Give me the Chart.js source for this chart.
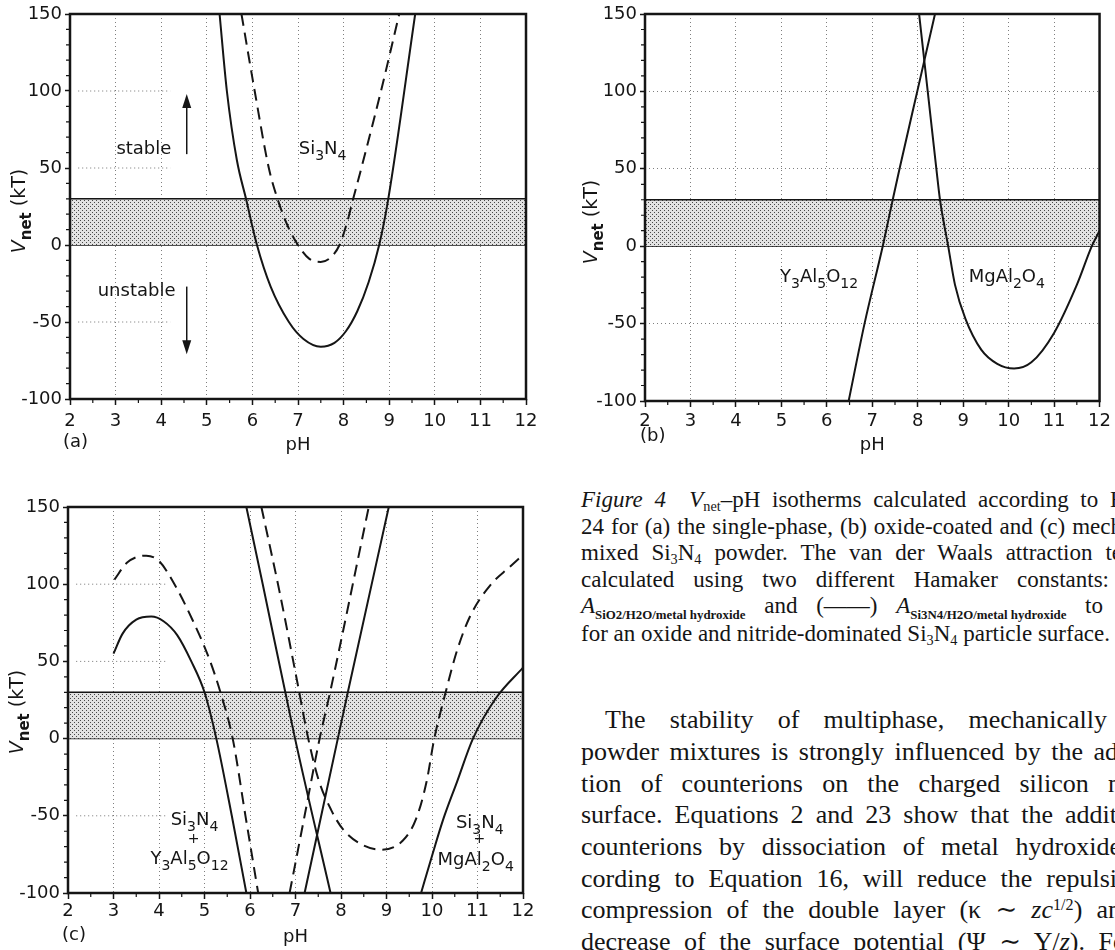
<!DOCTYPE html>
<html>
<head>
<meta charset="utf-8">
<title>Vnet-pH isotherms</title>
<script src="https://cdn.jsdelivr.net/npm/chart.js@4.4.1/dist/chart.umd.min.js"></script>
<style>
  html, body { margin: 0; padding: 0; background: #fff; }
  body { position: relative; width: 1115px; height: 950px; overflow: hidden; color: #151515;
         font-family: "Liberation Serif", "DejaVu Serif", serif; }
  canvas { position: absolute; }
  #chartA { left: 0; top: 0; }
  #chartB { left: 570px; top: 0; }
  #chartC { left: 0; top: 480px; }
  .ln { position: absolute; white-space: nowrap; line-height: 1; }
  .cap { font-size: 23px; }
  .par { font-size: 26px; }
  .ln sub { font-size: 0.62em; vertical-align: -0.28em; line-height: 0; }
  .ln sup { font-size: 0.62em; vertical-align: 0.5em; line-height: 0; }
  .ln .hs { font-size: 0.56em; font-weight: bold; vertical-align: -0.45em; line-height: 0; word-spacing: 0; }
</style>
</head>
<body>
<canvas id="chartA" width="560" height="470"></canvas>
<canvas id="chartB" width="545" height="470"></canvas>
<canvas id="chartC" width="560" height="470"></canvas>
<div id="text"></div>
<script>
// axis ticks shared by the three panels
const pHTicks = [2, 3, 4, 5, 6, 7, 8, 9, 10, 11, 12];
const vTicks = [-100, -50, 0, 50, 100, 150];
const bandBottom = 0, bandTop = 30;

// (a) single-phase Si3N4
const aSolidPH = [5.28, 5.44, 5.66, 5.86, 6.10, 6.40, 6.80, 7.12, 7.50, 7.80, 8.05, 8.30, 8.55, 8.78, 8.98, 9.57];
const aSolidV  = [150, 100, 55, 30, 0, -27, -50, -61, -66, -63.5, -56, -43, -24, 0, 30, 150];
const aDashPH  = [5.76, 6.05, 6.36, 6.55, 6.78, 7.00, 7.25, 7.50, 7.72, 7.91, 8.08, 8.21, 8.39, 8.82, 9.22];
const aDashV   = [150, 100, 50, 30, 12, 0, -9, -11, -8, 0, 15, 30, 50, 100, 150];

// (b) oxide-coated Si3N4
const bYagPH    = [6.48, 6.83, 7.23, 7.45, 7.60, 7.99, 8.38];
const bYagV     = [-100, -50, 0, 30, 50, 100, 150];
const bSpinelPH = [8.03, 8.22, 8.41, 8.49, 8.67, 8.82, 9.05, 9.40, 9.75, 10.12, 10.50, 11.00, 11.50, 11.83, 12.00];
const bSpinelV  = [150, 100, 50, 30, 0, -25, -47, -67, -76, -79, -75, -56, -25, 0, 10];

// (c) mechanically mixed powders
const cYagSolidLeftPH  = [3.00, 3.20, 3.50, 3.83, 4.10, 4.40, 4.71, 5.00, 5.26, 5.60, 5.92];
const cYagSolidLeftV   = [55, 68, 77, 79, 76, 67, 50, 30, 0, -50, -100];
const cYagDashLeftPH   = [3.02, 3.30, 3.72, 4.00, 4.34, 4.75, 5.10, 5.35, 5.62, 5.90, 6.18];
const cYagDashLeftV    = [103, 114, 118.5, 115, 100, 76, 52, 30, 0, -50, -100];
const cYagDashRightPH  = [6.87, 7.20, 7.53, 7.76, 8.61];
const cYagDashRightV   = [-100, -50, 0, 30, 150];
const cYagSolidRightPH = [7.20, 7.93, 8.15, 9.05];
const cYagSolidRightV  = [-100, 0, 30, 150];
const cSpinelSolidLeftPH  = [5.92, 6.28, 6.99, 7.77];
const cSpinelSolidLeftV   = [150, 100, 0, -100];
const cSpinelSolidRightPH = [9.76, 10.00, 10.25, 10.55, 10.90, 11.40, 12.00];
const cSpinelSolidRightV  = [-100, -76, -52, -28, 0, 26, 46];
const cSpinelDashPH = [6.25, 6.65, 7.05, 7.28, 7.50, 7.78, 8.05, 8.48, 8.90, 9.36, 9.65, 9.88, 10.05, 10.30, 10.55, 10.85, 11.30, 11.70, 12.00];
const cSpinelDashV  = [150, 95, 35, 0, -26, -46, -59, -69, -72, -66, -52, -28, 0, 30, 57, 80, 100, 111, 119];

const FONT = '"DejaVu Sans", sans-serif';
const INK = '#151515';

const si3n4 = [['Si', ''], ['3', 's'], ['N', ''], ['4', 's']];
const yag = [['Y', ''], ['3', 's'], ['Al', ''], ['5', 's'], ['O', ''], ['12', 's']];
const spinel = [['MgAl', ''], ['2', 's'], ['O', ''], ['4', 's']];

function curve(ph, v, dashed) {
    return {
        data: ph.map((x, i) => ({ x: x, y: v[i] })),
        showLine: true,
        borderColor: INK,
        borderWidth: 2,
        borderDash: dashed ? [12, 7] : [],
        pointRadius: 0,
        fill: false,
        cubicInterpolationMode: 'monotone'
    };
}

// staggered dot stipple for the 0..30 kT band
function stipple() {
    const c = document.createElement('canvas');
    c.width = 4; c.height = 4;
    const g = c.getContext('2d');
    g.fillStyle = '#e2e2e2';
    g.fillRect(0, 0, 4, 4);
    g.fillStyle = '#484848';
    g.fillRect(0, 0, 1, 1);
    g.fillRect(2, 2, 1, 1);
    return g.createPattern(c, 'repeat');
}

function bandSets() {
    return [
        { data: [{ x: 2, y: bandTop }, { x: 12, y: bandTop }], showLine: true, borderColor: INK, borderWidth: 1.5,
          pointRadius: 0, fill: { value: bandBottom }, backgroundColor: stipple() },
        { data: [{ x: 2, y: bandBottom }, { x: 12, y: bandBottom }], showLine: true, borderColor: INK, borderWidth: 1.5,
          pointRadius: 0, fill: false }
    ];
}

// text with subscripts, centred on x
function richText(ctx, x, y, parts, size) {
    const fontOf = t => {
        if (t === 's') return Math.round(size * 0.75) + 'px ' + FONT;
        if (t === 'sb') return 'bold ' + Math.round(size * 0.78) + 'px ' + FONT;
        if (t === 'i') return 'italic ' + size + 'px ' + FONT;
        return size + 'px ' + FONT;
    };
    let w = 0;
    parts.forEach(p => { ctx.font = fontOf(p[1]); w += ctx.measureText(p[0]).width; });
    let cx = x - w / 2;
    ctx.textAlign = 'left';
    ctx.textBaseline = 'middle';
    ctx.fillStyle = INK;
    parts.forEach(p => {
        ctx.font = fontOf(p[1]);
        const dy = (p[1] === 's' || p[1] === 'sb') ? size * 0.38 : 0;
        ctx.fillText(p[0], cx, y + dy);
        cx += ctx.measureText(p[0]).width;
    });
}

function arrow(ctx, x, y0, y1) {
    const dir = y1 > y0 ? 1 : -1;
    ctx.beginPath();
    ctx.moveTo(x, y0);
    ctx.lineTo(x, y1 - dir * 10);
    ctx.stroke();
    ctx.beginPath();
    ctx.moveTo(x, y1);
    ctx.lineTo(x - 4.5, y1 - dir * 14);
    ctx.lineTo(x + 4.5, y1 - dir * 14);
    ctx.closePath();
    ctx.fill();
}

function makePanel(id, p) {
    const deco = {
        id: 'deco' + id,
        beforeDatasetsDraw(chart) {
            const { ctx, scales: { x, y } } = chart;
            ctx.save();
            ctx.setLineDash([1, 3]);
            ctx.strokeStyle = 'rgba(0,0,0,0.55)';
            ctx.lineWidth = 1;
            p.hGuides.forEach(v => {
                ctx.beginPath();
                ctx.moveTo(x.getPixelForValue(2.18), y.getPixelForValue(v));
                ctx.lineTo(x.getPixelForValue(4.2), y.getPixelForValue(v));
                ctx.stroke();
            });
            ctx.restore();
        },
        afterDraw(chart) {
            const { ctx, chartArea: a, scales: { x, y } } = chart;
            ctx.save();
            ctx.strokeStyle = INK;
            ctx.fillStyle = INK;
            ctx.lineWidth = 2.5;
            ctx.strokeRect(a.left, a.top, a.right - a.left, a.bottom - a.top);

            // minor ticks
            ctx.lineWidth = 1.2;
            ctx.beginPath();
            for (let v = -100; v <= 150; v += 10) {
                if (v % 50 === 0) continue;
                const py = y.getPixelForValue(v);
                ctx.moveTo(a.left - 4, py);
                ctx.lineTo(a.left, py);
            }
            for (let h = 2.5; h < 12; h += 1) {
                const px = x.getPixelForValue(h);
                ctx.moveTo(px, a.bottom);
                ctx.lineTo(px, a.bottom + 4);
            }
            ctx.stroke();

            ctx.lineWidth = 1.5;
            (p.arrows || []).forEach(ar => {
                arrow(ctx, x.getPixelForValue(ar.ph), y.getPixelForValue(ar.from), y.getPixelForValue(ar.to));
            });

            p.labels.forEach(l => {
                richText(ctx, x.getPixelForValue(l.ph), y.getPixelForValue(l.v), l.parts, l.size || 18);
            });

            ctx.font = '18px ' + FONT;
            ctx.textAlign = 'left';
            ctx.textBaseline = 'middle';
            ctx.fillText(p.letter, p.letterX, p.letterY);

            // y axis title
            ctx.translate(p.titleX, p.titleY);
            ctx.rotate(-Math.PI / 2);
            richText(ctx, 0, 0, [['V', 'i'], ['net', 'sb'], [' (kT)', '']], 19);
            ctx.restore();
        }
    };

    return new Chart(document.getElementById(id), {
        type: 'scatter',
        data: { datasets: p.datasets.concat(bandSets()) },
        options: {
            responsive: false,
            animation: false,
            devicePixelRatio: 1,
            layout: { padding: { left: 0, top: p.top, right: p.right, bottom: 0 } },
            plugins: { legend: { display: false }, tooltip: { enabled: false } },
            scales: {
                x: {
                    type: 'linear', min: 2, max: 12,
                    afterBuildTicks: s => { s.ticks = pHTicks.map(v => ({ value: v })); },
                    ticks: { font: { family: FONT, size: 18 }, color: INK, padding: p.xPad, maxRotation: 0, autoSkip: false },
                    grid: { color: 'rgba(0,0,0,0.5)', lineWidth: 1, tickLength: 6, tickColor: INK, tickWidth: 1.5 },
                    border: { display: false, dash: [1, 3] },
                    title: { display: true, text: 'pH', font: { family: FONT, size: 18 }, color: INK,
                             padding: { top: 0, bottom: p.titlePad } },
                    afterFit: s => { s.height = p.xAxisH; }
                },
                y: {
                    type: 'linear', min: -100, max: 150,
                    afterBuildTicks: s => { s.ticks = vTicks.map(v => ({ value: v })); },
                    ticks: { font: { family: FONT, size: 18 }, color: INK, padding: 3 },
                    grid: { drawOnChartArea: p.fullGrid, color: 'rgba(0,0,0,0.5)', lineWidth: 1, tickLength: 5,
                            tickColor: INK, tickWidth: 1.5 },
                    border: { display: false, dash: [1, 3] },
                    afterFit: s => { s.width = p.yAxisW; }
                }
            }
        },
        plugins: [deco]
    });
}

makePanel('chartA', {
    top: 14, right: 34, yAxisW: 70, xAxisH: 71, xPad: 6, titlePad: 14, fullGrid: false,
    hGuides: [100, 50, -50], titleX: 20, titleY: 211, letter: '(a)', letterX: 63, letterY: 442,
    datasets: [curve(aSolidPH, aSolidV, false), curve(aDashPH, aDashV, true)],
    labels: [
        { ph: 3.62, v: 62, parts: [['stable', '']] },
        { ph: 3.46, v: -30, parts: [['unstable', '']] },
        { ph: 7.54, v: 62, parts: si3n4 }
    ],
    arrows: [{ ph: 4.56, from: 59, to: 98 }, { ph: 4.56, from: -27, to: -71 }]
});

makePanel('chartB', {
    top: 14, right: 13, yAxisW: 75, xAxisH: 69, xPad: 4, titlePad: 14, fullGrid: true,
    hGuides: [], titleX: 22, titleY: 222, letter: '(b)', letterX: 70, letterY: 436,
    datasets: [curve(bYagPH, bYagV, false), curve(bSpinelPH, bSpinelV, false)],
    labels: [
        { ph: 5.83, v: -20, parts: yag },
        { ph: 9.96, v: -20, parts: spinel }
    ]
});

makePanel('chartC', {
    top: 27, right: 37, yAxisW: 68, xAxisH: 57, xPad: 2, titlePad: 2, fullGrid: false,
    hGuides: [100, 50, -50], titleX: 18, titleY: 232, letter: '(c)', letterX: 62, letterY: 455,
    datasets: [
        curve(cYagSolidLeftPH, cYagSolidLeftV, false),
        curve(cYagDashLeftPH, cYagDashLeftV, true),
        curve(cYagDashRightPH, cYagDashRightV, true),
        curve(cYagSolidRightPH, cYagSolidRightV, false),
        curve(cSpinelSolidLeftPH, cSpinelSolidLeftV, false),
        curve(cSpinelSolidRightPH, cSpinelSolidRightV, false),
        curve(cSpinelDashPH, cSpinelDashV, true)
    ],
    labels: [
        { ph: 4.78, v: -53, parts: si3n4 },
        { ph: 4.76, v: -65, parts: [['+', '']], size: 14 },
        { ph: 4.67, v: -78, parts: yag },
        { ph: 11.05, v: -55, parts: si3n4 },
        { ph: 11.04, v: -65, parts: [['+', '']], size: 14 },
        { ph: 10.96, v: -79, parts: spinel }
    ]
});

// caption and body text: [visible part, clipped remainder, right edge of visible part, left, baseline]
const captionLines = [
    ['<i>Figure 4</i>&nbsp; <i>V</i><sub>net</sub>–pH isotherms calculated according to E', 'q.', 1124, 581, 507],
    ['24 for (a) the single-phase, (b) oxide-coated and (c) mech', 'anically', 1122, 581, 534],
    ['mixed Si<sub>3</sub>N<sub>4</sub> powder. The van der Waals attraction te', 'rm was', 1122, 581, 560],
    ['calculated using two different Hamaker constants:', ' (– – –)', 1109, 581, 587],
    ['<i>A</i><span class="hs">SiO2/H2O/metal hydroxide</span> and (——) <i>A</i><span class="hs">Si3N4/H2O/metal hydroxide</span> to', ' account', 1103, 581, 613],
    ['for an oxide and nitride-dominated Si<sub>3</sub>N<sub>4</sub> particle surface.', '', 0, 581, 641]
];
const paraLines = [
    ['The stability of multiphase, mechanically', ' mixed', 1107, 605, 729],
    ['powder mixtures is strongly influenced by the ad', 'sorp-', 1118, 581, 760.7],
    ['tion of counterions on the charged silicon n', 'itride', 1121, 581, 792.4],
    ['surface. Equations 2 and 23 show that the addit', 'ion of', 1117, 581, 824.1],
    ['counterions by dissociation of metal hydroxide', 's, ac-', 1121, 581, 855.8],
    ['cording to Equation 16, will reduce the repulsi', 'on by', 1117, 581, 887.5],
    ['compression of the double layer (κ ∼ <i>zc</i><sup>1/2</sup>) an', 'd', 1121, 581, 919.2],
    ['decrease of the surface potential (Ψ ∼ Υ/<i>z</i>). F', 'or', 1113, 581, 951]
];

function countGaps(s) {
    return (s.match(/[ \u00a0]/g) || []).length;
}

function placeLines(lines, cls, size) {
    const box = document.getElementById('text');
    lines.forEach(l => {
        const el = document.createElement('div');
        el.className = 'ln ' + cls;
        el.style.left = l[3] + 'px';
        el.style.top = (l[4] - size * 0.8375) + 'px';
        el.innerHTML = '<span class="vis">' + l[0] + '</span><span>' + l[1] + '</span>';
        box.appendChild(el);
        if (l[2]) {
            const vis = el.querySelector('.vis');
            let gaps = countGaps(vis.textContent);
            vis.querySelectorAll('.hs').forEach(h => { gaps -= countGaps(h.textContent); });
            const extra = (l[2] - l[3]) - vis.getBoundingClientRect().width;
            if (gaps) el.style.wordSpacing = (extra / gaps) + 'px';
        }
    });
}
placeLines(captionLines, 'cap', 23);
placeLines(paraLines, 'par', 26);
</script>
</body>
</html>
